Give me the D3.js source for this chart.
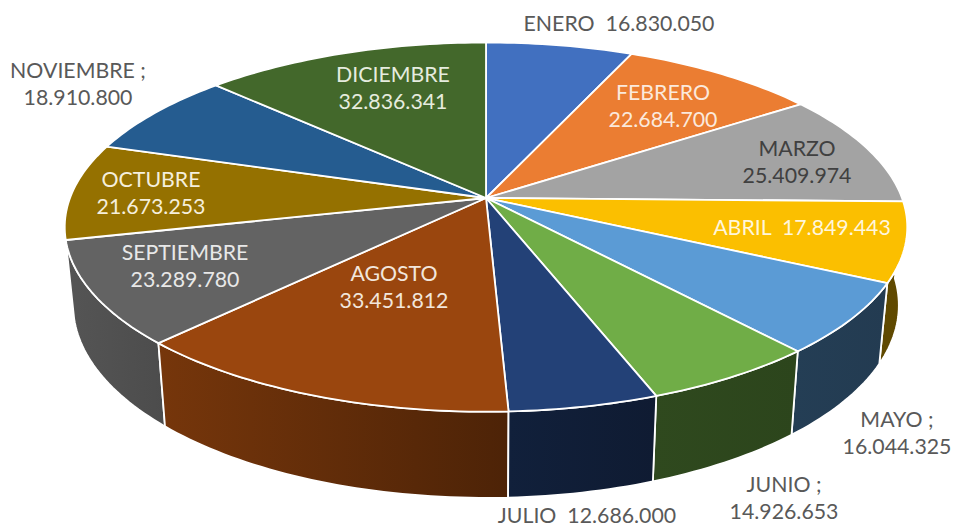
<!DOCTYPE html>
<html>
<head>
<meta charset="utf-8">
<script src="https://cdn.jsdelivr.net/npm/d3@7"></script>
<style>
  html, body { margin: 0; padding: 0; background: #fff; }
  svg { display: block; }
  text { font-family: Lato, "Open Sans", sans-serif; white-space: pre; text-anchor: middle; }
</style>
</head>
<body>
<div id="chart"></div>
<script>
// chart data
const months = ['ENERO', 'FEBRERO', 'MARZO', 'ABRIL', 'MAYO', 'JUNIO', 'JULIO', 'AGOSTO', 'SEPTIEMBRE', 'OCTUBRE', 'NOVIEMBRE', 'DICIEMBRE'];
const amounts = [16830050, 22684700, 25409974, 17849443, 16044325, 14926653, 12686000, 33451812, 23289780, 21673253, 18910800, 32836341];

// styling, one entry per month
const sliceColors = ['#4170c0', '#eb7d32', '#a3a3a3', '#fbbf00', '#5b9bd5', '#70ad47', '#234177', '#9a460e', '#636363', '#957100', '#255c90', '#43682b'];
const labelColors = ['#595959', '#fbe9dc', '#404040', '#fff6dc', '#595959', '#595959', '#595959', '#f2e6dc', '#e8e8e8', '#f5efdc', '#595959', '#e6ecdf'];
// text joining month and amount: a line break or two spaces
const labelJoins = ['  ', '\n', '\n', '  ', ' ;\n', ' ;\n', '  ', '\n', '\n', '\n', ' ;\n', '\n'];
// centre x and first baseline of each label
const labelPositions = [[619, 31], [663, 100], [797, 156], [802, 235], [897, 427], [784, 492], [587, 523], [394, 281], [185, 260], [151, 187], [78, 78], [393, 82]];

const width = 956;
const height = 529;

// pie hub and perspective of the tilted disc
const hubX = 486;
const hubY = 198;
const radiusX = 416;
const radiusY = 180;
const perspective = 0.1576;

// lower rim of the disc, relative to the upper rim
const rimScaleX = 0.98;
const rimScaleY = 1.043;
const rimDrop = 77;

const svg = d3.select('#chart').append('svg')
  .attr('width', width)
  .attr('height', height);
const defs = svg.append('defs');

/**
 * Project an angle on the upper rim (0 = top, clockwise)
 */
function topPoint(angle) {
  const s = 1 / (1 + perspective * Math.cos(angle));
  return [
    hubX + radiusX * Math.sin(angle) * s,
    hubY - radiusY * Math.cos(angle) * s
  ];
}

/**
 * Project an angle on the lower rim
 */
function bottomPoint(angle) {
  const p = topPoint(angle);
  return [
    hubX + (p[0] - hubX) * rimScaleX,
    hubY + rimDrop + (p[1] - hubY) * rimScaleY
  ];
}

function arcPoints(start, end, project) {
  const steps = Math.max(2, Math.ceil((end - start) / 0.02));
  return d3.range(steps + 1).map(i => project(start + (end - start) * i / steps));
}

const pie = d3.pie().sort(null).value(d => d.amount);
const slices = pie(months.map((month, i) => ({ month, amount: amounts[i], i })));
const line = d3.line();

// side shading gets darker from left to right
const shade = d3.scaleLinear()
  .domain([66, 168, 507, 650, 900])
  .range([0.86, 0.76, 0.5, 0.42, 0.38])
  .clamp(true);

function darken(color, k) {
  const c = d3.rgb(color);
  return d3.rgb(c.r * k, c.g * k, c.b * k).formatHex();
}

// side faces, only for the front half of the disc
const frontFrom = Math.PI / 2;
const frontTo = Math.PI * 1.5;
const sideSlices = slices
  .filter(d => d.endAngle > frontFrom && d.startAngle < frontTo)
  .sort((a, b) => Math.abs((b.startAngle + b.endAngle) / 2 - Math.PI) - Math.abs((a.startAngle + a.endAngle) / 2 - Math.PI));

const sides = svg.append('g').attr('class', 'sides');
sideSlices.forEach(d => {
  const from = Math.max(d.startAngle, frontFrom);
  const to = Math.min(d.endAngle, frontTo);
  const upper = arcPoints(from, to, topPoint);
  const lower = arcPoints(from, to, bottomPoint).reverse();
  const outline = upper.concat(lower);
  const [x0, x1] = d3.extent(outline, p => p[0]);
  const id = `side-${d.data.i}`;

  const gradient = defs.append('linearGradient')
    .attr('id', id)
    .attr('gradientUnits', 'userSpaceOnUse')
    .attr('x1', x0).attr('x2', x1)
    .attr('y1', 0).attr('y2', 0);
  gradient.append('stop').attr('offset', 0).attr('stop-color', darken(sliceColors[d.data.i], shade(x0)));
  gradient.append('stop').attr('offset', 1).attr('stop-color', darken(sliceColors[d.data.i], shade(x1)));

  sides.append('path')
    .attr('d', line(outline) + 'Z')
    .attr('fill', `url(#${id})`)
    .attr('stroke', '#fff')
    .attr('stroke-width', 1.8)
    .attr('stroke-linejoin', 'round');
});

// top face
svg.append('g').attr('class', 'top')
  .selectAll('path')
  .data(slices)
  .join('path')
  .attr('d', d => line([[hubX, hubY]].concat(arcPoints(d.startAngle, d.endAngle, topPoint))) + 'Z')
  .attr('fill', d => sliceColors[d.data.i])
  .attr('stroke', '#fff')
  .attr('stroke-width', 1.8)
  .attr('stroke-linejoin', 'round');

// labels
const formatAmount = d3.formatLocale({ decimal: ',', thousands: '.', grouping: [3], currency: ['', ''] }).format(',d');
const lineHeight = 27;

svg.append('g').attr('class', 'labels')
  .selectAll('text')
  .data(slices)
  .join('text')
  .attr('font-size', 21.3)
  .attr('fill', d => labelColors[d.data.i])
  .each(function (d) {
    const i = d.data.i;
    const lines = `${d.data.month}${labelJoins[i]}${formatAmount(d.data.amount)}`.split('\n');
    d3.select(this).selectAll('tspan')
      .data(lines)
      .join('tspan')
      .attr('x', labelPositions[i][0])
      .attr('y', (t, n) => labelPositions[i][1] + n * lineHeight)
      .text(t => t);
  });
</script>
</body>
</html>
